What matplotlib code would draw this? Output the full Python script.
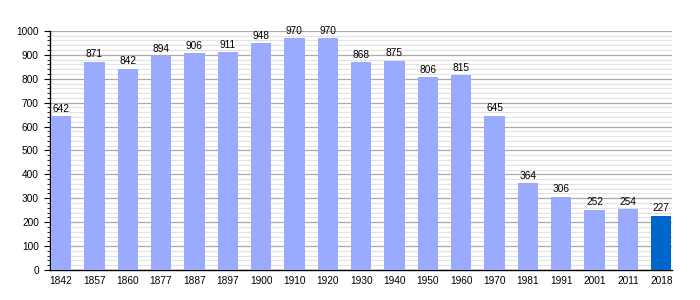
import numpy as np
import matplotlib
matplotlib.use("Agg")
import matplotlib.pyplot as plt
from matplotlib.ticker import MultipleLocator

plt.rcParams['font.family'] = ['Liberation Sans', 'DejaVu Sans']

years = ['1842', '1857', '1860', '1877', '1887', '1897', '1900', '1910', '1920',
         '1930', '1940', '1950', '1960', '1970', '1981', '1991', '2001', '2011', '2018']
population = [642, 871, 842, 894, 906, 911, 948, 970, 970,
              868, 875, 806, 815, 645, 364, 306, 252, 254, 227]

light = '#99aaff'
dark = '#0066cc'
colors = [light] * (len(years) - 1) + [dark]

fig = plt.figure(figsize=(7, 3), dpi=100)
ax = fig.add_axes([0.0714, 0.1, 0.889, 0.797])

x = np.arange(len(years))
ax.bar(x, population, width=0.61, color=colors, zorder=3)

# value labels above bars
for xi, v in zip(x, population):
    ax.text(xi, v + 10, str(v), ha='center', va='bottom', fontsize=7.3, zorder=4)

ax.set_xlim(-0.33, len(years) - 0.67)
ax.set_ylim(0, 1000)
ax.set_xticks(x)
ax.set_xticklabels(years, fontsize=7.3)
ax.yaxis.set_major_locator(MultipleLocator(100))
ax.yaxis.set_minor_locator(MultipleLocator(20))
ax.tick_params(axis='y', labelsize=7.3, length=4.5, width=0.8)
ax.tick_params(axis='y', which='minor', length=2.5, width=0.6)
ax.tick_params(axis='x', length=0, pad=4)

ax.grid(axis='y', which='major', color='#aaaaaa', linewidth=0.9, zorder=0)
ax.grid(axis='y', which='minor', color='#e2e2e2', linewidth=0.8, zorder=0)

for side in ['top', 'right']:
    ax.spines[side].set_visible(False)
ax.spines['left'].set_linewidth(1.0)
ax.spines['bottom'].set_linewidth(1.0)

plt.savefig('out.png')
